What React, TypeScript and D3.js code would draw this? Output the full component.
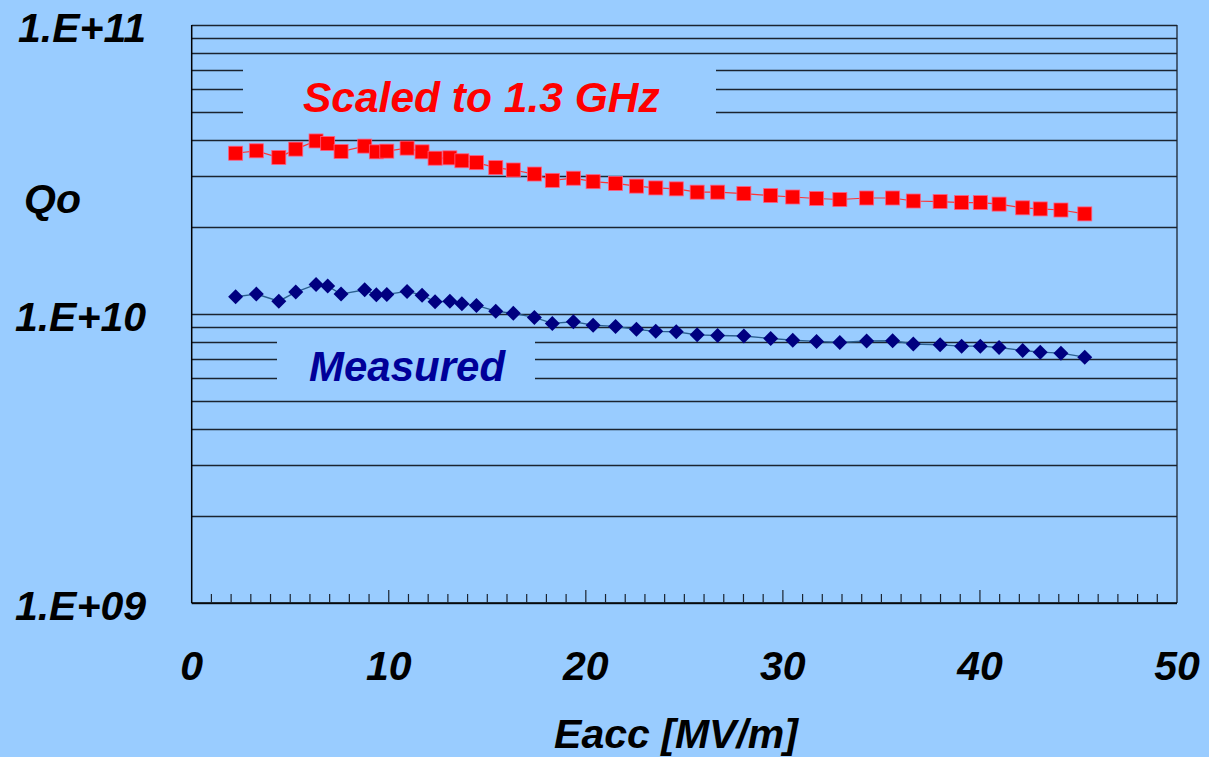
import React from "react";
import * as d3 from "d3";

const eacc = [
  2.23, 3.28, 4.42, 5.28, 6.31, 6.9, 7.58, 8.78, 9.37, 9.9, 10.93, 11.69, 12.35, 13.1, 13.71,
  14.45, 15.43, 16.32, 17.39, 18.3, 19.37, 20.37, 21.51, 22.57, 23.55, 24.59, 25.65, 26.69,
  28.02, 29.38, 30.5, 31.71, 32.89, 34.25, 35.57, 36.62, 37.98, 39.07, 40.02, 40.97, 42.17,
  43.06, 44.11, 45.32,
];

const qScaled = [
  3.6e10, 3.67e10, 3.48e10, 3.72e10, 3.97e10, 3.89e10, 3.65e10, 3.81e10, 3.64e10, 3.66e10,
  3.75e10, 3.64e10, 3.46e10, 3.47e10, 3.39e10, 3.34e10, 3.21e10, 3.15e10, 3.05e10, 2.9e10,
  2.95e10, 2.87e10, 2.83e10, 2.77e10, 2.73e10, 2.71e10, 2.64e10, 2.64e10, 2.61e10, 2.57e10,
  2.54e10, 2.51e10, 2.49e10, 2.52e10, 2.52e10, 2.46e10, 2.45e10, 2.43e10, 2.43e10, 2.4e10,
  2.33e10, 2.31e10, 2.29e10, 2.22e10,
];

const qMeasured = [
  1.147e10, 1.172e10, 1.108e10, 1.191e10, 1.266e10, 1.249e10, 1.172e10, 1.213e10, 1.165e10,
  1.169e10, 1.197e10, 1.162e10, 1.102e10, 1.106e10, 1.085e10, 1.071e10, 1.023e10, 1.005e10,
  0.973e10, 0.928e10, 0.94e10, 0.915e10, 0.906e10, 0.885e10, 0.871e10, 0.868e10, 0.847e10,
  0.843e10, 0.839e10, 0.823e10, 0.812e10, 0.804e10, 0.797e10, 0.806e10, 0.808e10, 0.787e10,
  0.782e10, 0.774e10, 0.774e10, 0.766e10, 0.748e10, 0.738e10, 0.732e10, 0.709e10,
];

const xTickValues = [0, 10, 20, 30, 40, 50];
const yTickValues = [1e9, 1e10, 1e11];
const yTickLabels = ["1.E+09", "1.E+10", "1.E+11"];

const W = 1209;
const H = 757;
const L = 191.7;
const R = 1177;
const T = 25;
const B = 603;
const BG = "#99CCFF";
const FONT = "'Liberation Sans', Arial, sans-serif";

export default function App() {
  const x = d3.scaleLinear().domain([0, 50]).range([L, R]);
  const y = d3.scaleLog().domain([1e9, 1e11]).range([B, T]);
  const grid = y.ticks();
  const minor = d3.range(1, 50);

  const redPts = eacc.map((e, i) => [x(e), y(qScaled[i])] as [number, number]);
  const bluePts = eacc.map((e, i) => [x(e), y(qMeasured[i])] as [number, number]);
  const line = d3.line();

  return (
    <svg
      width={W}
      height={H}
      style={{ position: "absolute", left: 0, top: 0 }}
      fontFamily={FONT}
    >
      <rect x={0} y={0} width={W} height={H} fill={BG} />
      {grid.map((g, i) => (
        <line
          key={"g" + i}
          x1={L}
          x2={R}
          y1={Math.round(y(g)) + 0.5}
          y2={Math.round(y(g)) + 0.5}
          stroke="#1b2430"
          strokeWidth={1.3}
        />
      ))}
      {/* label mask boxes */}
      <rect x={243} y={57} width={473} height={77} fill={BG} />
      <rect x={277} y={333} width={258} height={62} fill={BG} />
      {/* axes */}
      <line x1={L} x2={L} y1={T} y2={B} stroke="#000" strokeWidth={1.5} />
      <line x1={R} x2={R} y1={T} y2={B} stroke="#1b2430" strokeWidth={1.3} />
      <line x1={L} x2={R} y1={B} y2={B} stroke="#000" strokeWidth={1.5} />
      {minor.map((m) => (
        <line
          key={"t" + m}
          x1={x(m)}
          x2={x(m)}
          y1={B}
          y2={B - (m % 10 === 0 ? 13 : 9)}
          stroke="#1b2430"
          strokeWidth={1.2}
        />
      ))}
      {/* tick labels */}
      <g fontSize={41} fontWeight="bold" fontStyle="italic" fill="#000">
        {xTickValues.map((v) => (
          <text key={"x" + v} x={x(v)} y={680} textAnchor="middle">
            {v}
          </text>
        ))}
        {yTickValues.map((v, i) => (
          <text key={"y" + v} x={146} y={y(v) + 17} textAnchor="end">
            {yTickLabels[i]}
          </text>
        ))}
        <text x={24} y={213}>Qo</text>
        <text x={676} y={748} textAnchor="middle">
          Eacc [MV/m]
        </text>
      </g>
      <text
        x={303}
        y={111.5}
        fontSize={42.5}
        fontWeight="bold"
        fontStyle="italic"
        fill="#FF0000"
      >
        Scaled to 1.3 GHz
      </text>
      <text
        x={309}
        y={381}
        fontSize={42}
        fontWeight="bold"
        fontStyle="italic"
        fill="#000099"
      >
        Measured
      </text>
      {/* series */}
      <path d={line(redPts) || ""} fill="none" stroke="#FF3333" strokeWidth={1.2} />
      <path d={line(bluePts) || ""} fill="none" stroke="#2a5f8f" strokeWidth={1.4} />
      {redPts.map(([px, py], i) => (
        <rect
          key={"r" + i}
          x={px - 7}
          y={py - 7}
          width={14}
          height={14}
          fill="#FF0000"
          stroke="#ff5c80"
          strokeWidth={0.8}
        />
      ))}
      {bluePts.map(([px, py], i) => (
        <path
          key={"b" + i}
          d={`M${px},${py - 7.5}L${px + 7.5},${py}L${px},${py + 7.5}L${px - 7.5},${py}Z`}
          fill="#000080"
        />
      ))}
    </svg>
  );
}
